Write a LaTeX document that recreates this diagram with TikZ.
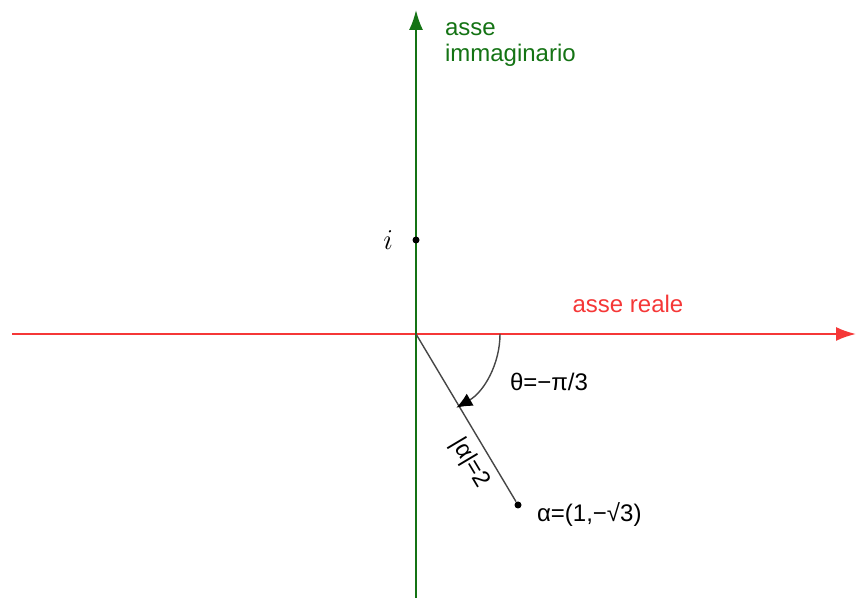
\documentclass[tikz,border=0pt]{standalone}
\usepackage{fontspec}
\setmainfont{Liberation Sans}
\usetikzlibrary{arrows.meta, positioning}
\definecolor{axisgreen}{RGB}{20,115,20}
\definecolor{axisred}{RGB}{245,55,55}
\definecolor{segmentgray}{RGB}{70,70,70}
\begin{document}
\begin{tikzpicture}[
        x=0.5pt, y=0.5pt,
        font=\fontsize{12}{13}\selectfont,
        axis/.style={line width=1pt, -{Latex[length=10pt, width=7pt]}},
        segment/.style={draw=segmentgray, line width=0.7pt},
        arcarrow/.style={draw=segmentgray, line width=0.7pt, -{Latex[length=8pt, width=7pt, color=black]}, shorten >=-1pt},
        pointdot/.style={circle, fill=black, inner sep=0pt, minimum size=3.5pt}
    ]
        \useasboundingbox (0,0) rectangle (856,598);

        % Axes
        \coordinate (O) at (416,264);
        \coordinate (realstart) at (12,264);
        \coordinate (realend) at (856,264);
        \coordinate (imagstart) at (416,0);
        \coordinate (imagend) at (416,588);
        \draw[axis, axisred] (realstart) -- (realend);
        \draw[axis, axisgreen] (imagstart) -- (imagend);

        % Axis labels
        \node[anchor=north west, align=left, text=axisgreen] (imaglabel) at (438,582) {asse\\immaginario};
        \node[text=axisred] (reallabel) at (628,294) {asse reale};

        % Points
        \node[pointdot] (i) at (416,358) {};
        \node[left=6pt of i, font=\fontsize{15}{15}\selectfont] (ilabel) {$i$};
        \node[pointdot] (alpha) at (518,93) {};
        \node[anchor=west] (alphalabel) at (530,84) {α=(1,−√3)};

        % Modulus and argument
        \draw[segment] (O) -- node[pos=0.71, sloped, below, inner sep=4pt] (modlabel) {|α|=2} (alpha);
        \draw[arcarrow] ([shift={(0:84)}]O) arc[start angle=0, end angle=-60, radius=84];
        \node (arglabel) at (549,216) {θ=−π/3};
    \end{tikzpicture}
\end{document}
